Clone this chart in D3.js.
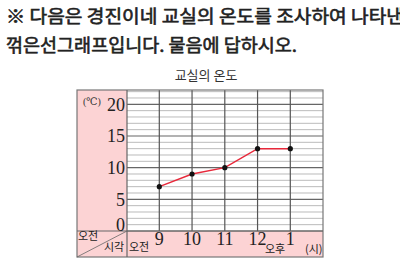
<!doctype html>
<html>
  <head>
    <meta charset="utf-8">
    <title>교실의 온도</title>
    <style>
      html, body { margin: 0; padding: 0; background: #fff; }
      svg { display: block; }
      .kr { font-family: "Noto Sans CJK KR", sans-serif; }
      .num { font-family: "Liberation Serif", "DejaVu Serif", serif; }
    </style>
  </head>
  <body>
    <div id="content"></div>
    <script src="https://d3js.org/d3.v7.min.js"></script>
    <script>
      // data
      const hours = ['9', '10', '11', '12', '1'];
      const temps = [7, 9, 10, 13, 13];
      const yTicks = [0, 5, 10, 15, 20];
      const headerLines = ['※ 다음은 경진이네 교실의 온도를 조사하여 나타낸', '꺾은선그래프입니다. 물음에 답하시오.'];

      const W = 400, H = 259;
      const box = { left: 77, top: 90, right: 323, bottom: 257 };
      const plotLeft = 127, axisY = 231;
      const pink = '#fcd3d4';

      const svg = d3.select('#content')
        .append('svg')
        .attr('width', W)
        .attr('height', H);

      // header text
      svg.append('text')
        .attr('class', 'kr')
        .attr('x', 6).attr('y', 23)
        .attr('font-size', 18).attr('font-weight', 400)
        .attr('fill', '#222').attr('stroke', '#222').attr('stroke-width', 0.6)
        .attr('textLength', 398).attr('lengthAdjust', 'spacingAndGlyphs')
        .text(headerLines[0]);
      svg.append('text')
        .attr('class', 'kr')
        .attr('x', 6).attr('y', 52)
        .attr('font-size', 18).attr('font-weight', 400)
        .attr('fill', '#222').attr('stroke', '#222').attr('stroke-width', 0.6)
        .attr('textLength', 291).attr('lengthAdjust', 'spacingAndGlyphs')
        .text(headerLines[1]);

      svg.append('text')
        .attr('class', 'kr')
        .attr('x', 206).attr('y', 80)
        .attr('text-anchor', 'middle')
        .attr('font-size', 13)
        .attr('fill', '#333')
        .text('교실의 온도');

      const x = d3.scalePoint()
        .domain(hours)
        .range([159.3, 290.3]);

      const y = d3.scaleLinear()
        .domain([0, 22.26])
        .range([axisY, box.top]);

      // pink label areas
      svg.append('rect')
        .attr('x', box.left).attr('y', box.top)
        .attr('width', plotLeft - box.left).attr('height', box.bottom - box.top)
        .attr('fill', pink);
      svg.append('rect')
        .attr('x', box.left).attr('y', axisY)
        .attr('width', box.right - box.left).attr('height', box.bottom - axisY)
        .attr('fill', pink);

      // horizontal grid
      const minor = d3.range(1, 23).filter(d => d % 5 !== 0);
      svg.append('g')
        .selectAll('line')
        .data(minor)
        .join('line')
        .attr('x1', plotLeft).attr('x2', box.right)
        .attr('y1', d => y(d)).attr('y2', d => y(d))
        .attr('stroke', '#aaa')
        .attr('stroke-width', 0.8);
      svg.append('g')
        .selectAll('line')
        .data(yTicks)
        .join('line')
        .attr('x1', plotLeft).attr('x2', box.right)
        .attr('y1', d => y(d)).attr('y2', d => y(d))
        .attr('stroke', '#666')
        .attr('stroke-width', 1.2);

      // vertical grid
      svg.append('g')
        .selectAll('line')
        .data(hours)
        .join('line')
        .attr('x1', d => x(d)).attr('x2', d => x(d))
        .attr('y1', box.top).attr('y2', axisY)
        .attr('stroke', '#555')
        .attr('stroke-width', 1.2);

      // frame
      svg.append('rect')
        .attr('x', box.left).attr('y', box.top)
        .attr('width', box.right - box.left).attr('height', box.bottom - box.top)
        .attr('fill', 'none')
        .attr('stroke', '#777')
        .attr('stroke-width', 1.2);
      svg.append('line')
        .attr('x1', plotLeft).attr('x2', plotLeft)
        .attr('y1', box.top).attr('y2', box.bottom)
        .attr('stroke', '#666').attr('stroke-width', 1.2);
      svg.append('line')
        .attr('x1', box.left).attr('x2', box.right)
        .attr('y1', axisY).attr('y2', axisY)
        .attr('stroke', '#666').attr('stroke-width', 1.2);
      svg.append('line')
        .attr('x1', box.left).attr('y1', box.bottom)
        .attr('x2', plotLeft).attr('y2', axisY)
        .attr('stroke', '#666').attr('stroke-width', 0.8);

      // y labels (the 0 sits just above the axis line)
      svg.append('g')
        .selectAll('text')
        .data(yTicks)
        .join('text')
        .attr('class', 'num')
        .attr('x', 125)
        .attr('y', d => d === 0 ? y(d) - 6 : y(d))
        .attr('dy', '0.36em')
        .attr('text-anchor', 'end')
        .attr('font-size', 18)
        .attr('fill', '#222')
        .text(d => d);

      svg.append('text')
        .attr('class', 'num')
        .attr('x', 83).attr('y', 105)
        .attr('font-size', 10)
        .attr('fill', '#333')
        .text('(℃)');

      // x labels
      svg.append('g')
        .selectAll('text')
        .data(hours)
        .join('text')
        .attr('class', 'num')
        .attr('x', d => x(d))
        .attr('y', 245)
        .attr('text-anchor', 'middle')
        .attr('font-size', 18)
        .attr('fill', '#222')
        .text(d => d);

      const small = [
        { t: '오전', x: 78, y: 240 },
        { t: '시각', x: 104, y: 251 },
        { t: '오전', x: 129, y: 251 },
        { t: '오후', x: 265, y: 253 },
        { t: '(시)', x: 305, y: 253 }
      ];
      svg.append('g')
        .selectAll('text')
        .data(small)
        .join('text')
        .attr('class', 'kr')
        .attr('x', d => d.x).attr('y', d => d.y)
        .attr('font-size', 11)
        .attr('fill', '#222')
        .text(d => d.t);

      // the line
      const line = d3.line()
        .x((d, i) => x(hours[i]))
        .y(d => y(d));
      svg.append('path')
        .datum(temps)
        .attr('d', line)
        .attr('fill', 'none')
        .attr('stroke', '#e8283a')
        .attr('stroke-width', 1.5);
      svg.append('g')
        .selectAll('circle')
        .data(temps)
        .join('circle')
        .attr('cx', (d, i) => x(hours[i]))
        .attr('cy', d => y(d))
        .attr('r', 2.6)
        .attr('fill', '#111');
    </script>
  </body>
</html>
